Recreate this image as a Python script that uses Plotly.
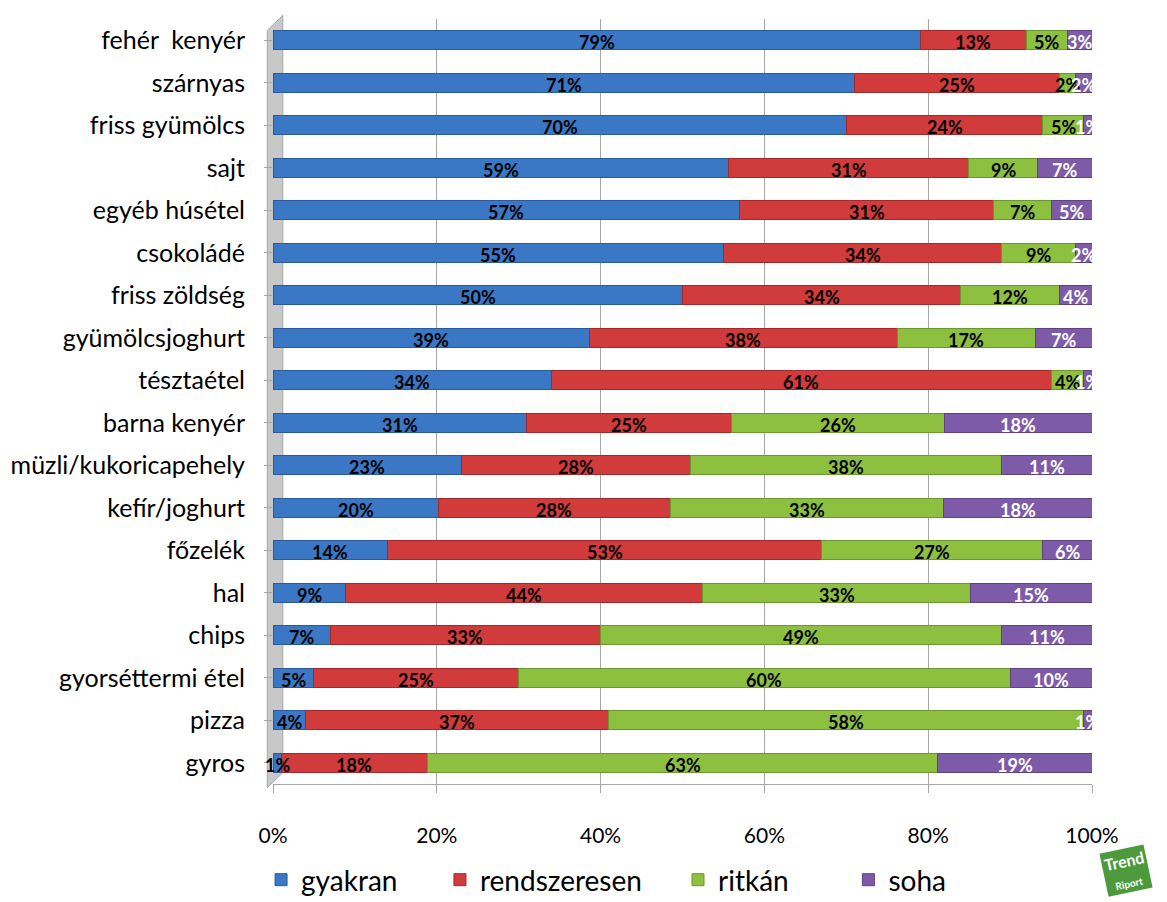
import plotly.graph_objects as go

categories = [
    "fehér  kenyér", "szárnyas", "friss gyümölcs", "sajt", "egyéb húsétel",
    "csokoládé", "friss zöldség", "gyümölcsjoghurt", "tésztaétel",
    "barna kenyér", "müzli/kukoricapehely", "kefír/joghurt", "főzelék",
    "hal", "chips", "gyorséttermi étel", "pizza", "gyros",
]
gyakran = [79, 71, 70, 59, 57, 55, 50, 39, 34, 31, 23, 20, 14, 9, 7, 5, 4, 1]
rendszeresen = [13, 25, 24, 31, 31, 34, 34, 38, 61, 25, 28, 28, 53, 44, 33, 25, 37, 18]
ritkan = [5, 2, 5, 9, 7, 9, 12, 17, 4, 26, 38, 33, 27, 33, 49, 60, 58, 63]
soha = [3, 2, 1, 7, 5, 2, 4, 7, 1, 18, 11, 18, 6, 15, 11, 10, 1, 19]

series = [
    ("gyakran", gyakran, "#3A78C6", "#2A5A98", "black"),
    ("rendszeresen", rendszeresen, "#D23B3B", "#A02A2A", "black"),
    ("ritkán", ritkan, "#8DC03F", "#6C9630", "black"),
    ("soha", soha, "#7E5BA8", "#5E4282", "white"),
]
legend_ids = ["legend", "legend2", "legend3", "legend4"]
# left edges of the legend entries, as fractions of the figure width
legend_x = [0.2237, 0.3770, 0.5810, 0.7270]

FONT = "Lato, 'Open Sans', sans-serif"

fig = go.Figure()
totals = [sum(v) for v in zip(gyakran, rendszeresen, ritkan, soha)]
running = [0.0] * len(categories)

for (name, vals, fill, edge, txt), lg in zip(series, legend_ids):
    fig.add_trace(go.Bar(
        y=categories,
        x=vals,
        name=name,
        orientation="h",
        marker=dict(color=fill, line=dict(color=edge, width=1)),
        legend=lg,
        hoverinfo="x+y+name",
    ))
    # value labels centred on each (normalised) segment
    for i, (cat, v) in enumerate(zip(categories, vals)):
        share = v / totals[i] * 100
        fig.add_annotation(
            x=running[i] + share / 2, y=cat,
            xref="x", yref="y",
            text=f"<b>{v}%</b>",
            showarrow=False,
            yshift=-2,
            font=dict(family=FONT, size=18, color=txt),
        )
        running[i] += share

# grey side wall behind the category axis
fig.add_shape(
    type="path",
    xref="paper", yref="paper",
    path="M -0.007 -0.005 L -0.007 0.985 L 0.012 1.005 L 0.012 0.015 Z",
    fillcolor="#C8C8C8", line=dict(color="#A8A8A8", width=1),
    layer="below",
)

# logo badge in the bottom-right corner
fig.add_annotation(
    xref="paper", yref="paper", x=1.042, y=-0.113,
    xanchor="center", yanchor="middle",
    text="<b>Trend</b><br><b><span style='font-size:10px'>Riport</span></b>",
    showarrow=False, textangle=-12,
    font=dict(family=FONT, size=16, color="white"),
    bgcolor="#4C9A3C", borderpad=2,
)

legend_layout = {}
for lg, lx in zip(legend_ids, legend_x):
    legend_layout[lg] = dict(
        orientation="h",
        xref="container", yref="container",
        x=lx, xanchor="left",
        y=0.0244, yanchor="middle",
        font=dict(size=28, family=FONT),
        itemwidth=30,
        bgcolor="rgba(0,0,0,0)",
    )

fig.update_layout(
    barmode="stack",
    barnorm="percent",
    bargap=0.56,
    width=1167, height=902,
    margin=dict(l=273, r=75, t=19, b=118, autoexpand=False),
    paper_bgcolor="white",
    plot_bgcolor="white",
    font=dict(family=FONT, color="black"),
    xaxis=dict(
        range=[0, 100],
        tickvals=[0, 20, 40, 60, 80, 100],
        ticktext=["0%", "20%", "40%", "60%", "80%", "100%"],
        showgrid=True, gridcolor="#A6A6A6", gridwidth=1,
        showline=True, linecolor="#A6A6A6",
        ticks="outside", ticklen=8, tickcolor="#A6A6A6",
        tickfont=dict(size=21, family=FONT),
        ticklabelstandoff=25,
        zeroline=False,
    ),
    yaxis=dict(
        autorange="reversed",
        showline=False,
        ticks="outside", ticklen=8, tickcolor="#A6A6A6",
        tickfont=dict(size=25, family=FONT),
        ticklabelstandoff=14,
    ),
    showlegend=True,
    **legend_layout,
)

fig.write_html("out.html")
